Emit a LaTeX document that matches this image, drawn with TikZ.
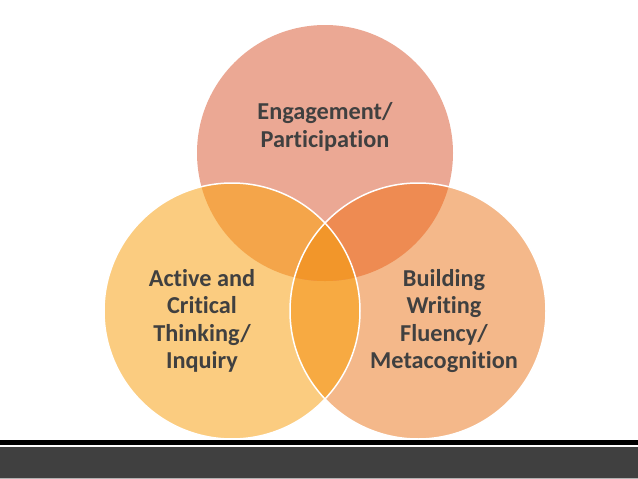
\documentclass[tikz,border=0pt]{standalone}
\usepackage{fontspec}
\setmainfont{Carlito}[Ligatures=NoCommon]
\definecolor{topfill}{HTML}{EBA894}
\definecolor{leftfill}{HTML}{FBCC80}
\definecolor{rightfill}{HTML}{F4B88A}
\definecolor{topleft}{HTML}{F4A54A}
\definecolor{topright}{HTML}{EE8B52}
\definecolor{leftright}{HTML}{F7AA42}
\definecolor{allthree}{HTML}{F2962A}
\definecolor{labeltext}{HTML}{404040}
\definecolor{barfill}{HTML}{404040}
\tikzset{
  label text/.style={align=center,text=labeltext,font=\fontsize{24.3}{27.5}\selectfont\bfseries},
  ring/.style={draw=white,line width=1.5pt}
}
\begin{document}
\begin{tikzpicture}[x=1pt,y=-1pt,line cap=butt,line join=miter]
	\useasboundingbox (0,0) rectangle (638,479);
	\def\rad{128pt}
	\coordinate (T) at (325,153);
	\coordinate (L) at (232,311);
	\coordinate (R) at (418,311);
	% the three circles
	\fill[topfill] (T) circle(\rad);
	\fill[leftfill] (L) circle(\rad);
	\fill[rightfill] (R) circle(\rad);
	\begin{scope}
		\clip (L) circle(\rad);
		\fill[leftright] (R) circle(\rad);
	\end{scope}
	\begin{scope}
		\clip (T) circle(\rad);
		\fill[topleft] (L) circle(\rad);
		\fill[topright] (R) circle(\rad);
		\clip (L) circle(\rad);
		\fill[allthree] (R) circle(\rad);
	\end{scope}
	\draw[ring] (L) circle(\rad) (R) circle(\rad);
	% labels
	\node[label text] (engage) at (325,127) {Engagement/\\Participation};
	\node[label text] (active) at (202,321) {Active and\\Critical\\Thinking/\\Inquiry};
	\node[label text] (build) at (444,321) {Building\\Writing\\Fluency/\\Metacognition};
	% bottom rule and bar
	\fill[black] (0,440) rectangle (638,445);
	\fill[barfill] (0,447) rectangle (638,478);
	\fill[black!30] (0,478) rectangle (638,479);
\end{tikzpicture}
\end{document}
